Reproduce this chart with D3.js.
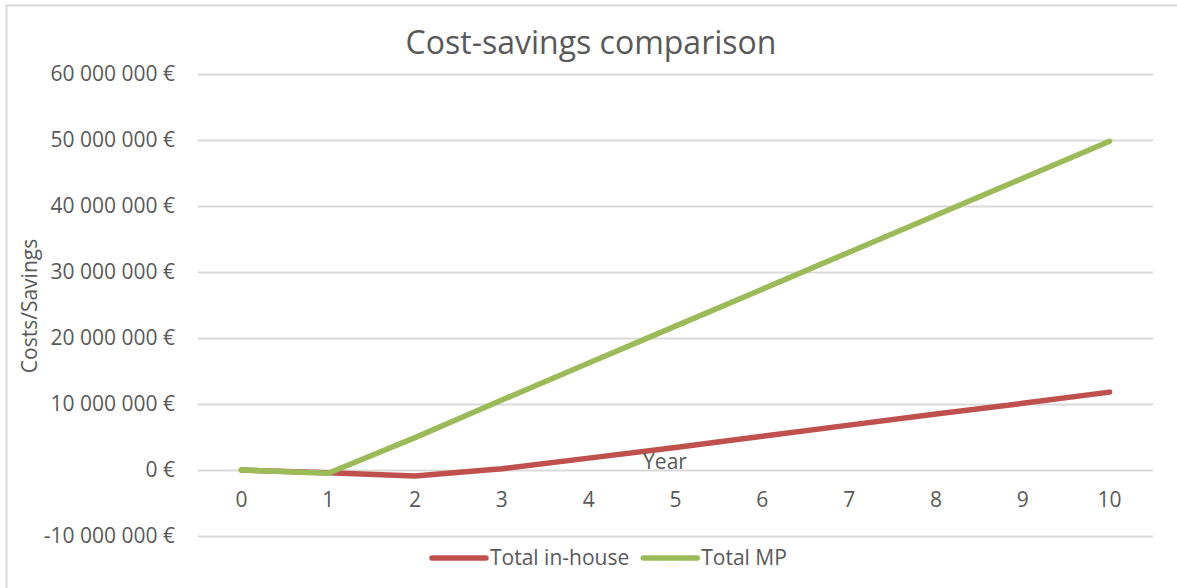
<!DOCTYPE html>
<html>
<head>
<meta charset="utf-8">
<script src="https://cdn.jsdelivr.net/npm/d3@7"></script>
<style>
  body { margin: 0; background: #fff; }
  svg { display: block; font-family: "Open Sans", sans-serif; }
</style>
</head>
<body>
<div id="chart"></div>
<script>
// data
var years = [0, 1, 2, 3, 4, 5, 6, 7, 8, 9, 10];
var totalInHouse = [0, -400000, -900000, 200000, 1800000, 3400000, 5100000, 6800000, 8500000, 10100000, 11800000];
var totalMP = [0, -500000, 4900000, 10600000, 16200000, 21800000, 27400000, 33000000, 38600000, 44200000, 49800000];
var yTicks = [-10000000, 0, 10000000, 20000000, 30000000, 40000000, 50000000, 60000000];
var seriesNames = ["Total in-house", "Total MP"];

var width = 1177, height = 588;
var margin = {top: 74, right: 24, bottom: 52, left: 198};

var svg = d3.select("#chart")
	.append("svg")
	.attr("width", width)
	.attr("height", height);

// chart area border (only top and left show in the picture)
svg.append("rect")
	.attr("x", 6.5)
	.attr("y", 5.5)
	.attr("width", width + 10)
	.attr("height", height + 10)
	.style("fill", "none")
	.style("stroke", "#d9d9d9")
	.style("stroke-width", 2);

var x = d3.scaleBand()
	.domain(years)
	.range([margin.left, width - margin.right])
	.padding(0);

var y = d3.scaleLinear()
	.domain([-10000000, 60000000])
	.range([536, margin.top]);

// plain hyphen for negatives, spaces as thousands separator
var fmt = function(v) {
	var s = d3.format(",")(Math.abs(v)).replace(/,/g, " ") + " €";
	return (v < 0 ? "-" : "") + s;
};

// gridlines + y labels
var yAxis = d3.axisLeft(y)
	.tickValues(yTicks)
	.tickSize(-(width - margin.right - margin.left))
	.tickPadding(23)
	.tickFormat(fmt);

var gy = svg.append("g")
	.attr("transform", "translate(" + margin.left + ",0)")
	.call(yAxis)
	.attr("font-family", null)
	.attr("font-size", null);
gy.select(".domain").remove();
gy.selectAll(".tick line").style("stroke", "#d9d9d9").style("stroke-width", 2);
gy.selectAll(".tick text")
	.style("font-size", "21px")
	.style("fill", "#595959");

// x labels (no axis line, category axis crosses at 0)
var xAxis = d3.axisBottom(x)
	.tickSize(0)
	.tickPadding(0);

var gx = svg.append("g")
	.attr("transform", "translate(0," + 489 + ")")
	.call(xAxis)
	.attr("font-family", null)
	.attr("font-size", null);
gx.select(".domain").remove();
gx.selectAll(".tick text")
	.style("font-size", "21px")
	.style("fill", "#595959")
	.attr("dy", "0")
	.attr("y", 0)
	.attr("dominant-baseline", "hanging");

// lines
var colors = ["#c0504d", "#9bbb59"];
var series = [totalInHouse, totalMP];

var line = d3.line()
	.x(function(d, i) { return x(years[i]) + x.bandwidth() / 2; })
	.y(function(d) { return y(d); });

series.forEach(function(s, k) {
	svg.append("path")
		.datum(s)
		.attr("d", line)
		.style("fill", "none")
		.style("stroke", colors[k])
		.style("stroke-width", 5.5)
		.style("stroke-linecap", "round")
		.style("stroke-linejoin", "round");
});

// title
svg.append("text")
	.attr("x", 591)
	.attr("y", 54)
	.attr("text-anchor", "middle")
	.style("font-size", "32px")
	.style("fill", "#595959")
	.text("Cost-savings comparison");

// axis titles
svg.append("text")
	.attr("transform", "translate(37,306) rotate(-90)")
	.attr("text-anchor", "middle")
	.style("font-size", "21px")
	.style("fill", "#595959")
	.text("Costs/Savings");

svg.append("text")
	.attr("x", 665)
	.attr("y", 469)
	.attr("text-anchor", "middle")
	.style("font-size", "21px")
	.style("fill", "#595959")
	.text("Year");

// legend
var legend = svg.append("g");
var lx = 432;
seriesNames.forEach(function(name, k) {
	legend.append("line")
		.attr("x1", lx).attr("x2", lx + 54)
		.attr("y1", 558).attr("y2", 558)
		.style("stroke", colors[k])
		.style("stroke-width", 5.5)
		.style("stroke-linecap", "round");
	var t = legend.append("text")
		.attr("x", lx + 58)
		.attr("y", 565)
		.style("font-size", "21px")
		.style("fill", "#595959")
		.text(name);
	lx = lx + 58 + t.node().getComputedTextLength() + 14;
});
</script>
</body>
</html>
